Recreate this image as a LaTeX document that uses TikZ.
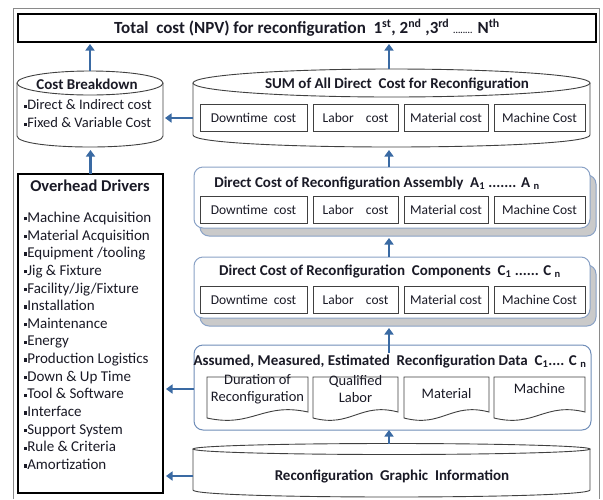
\documentclass[tikz,border=0pt]{standalone}
\usepackage{fontspec}
\setmainfont{Carlito}
\usetikzlibrary{arrows.meta}

\definecolor{arrowblue}{HTML}{3A6AA3}
\definecolor{framegray}{HTML}{8A8A8A}
\definecolor{panelblue}{HTML}{8AA2C6}
\definecolor{panelline}{HTML}{6F8DB8}
\definecolor{shadowgray}{HTML}{CACACA}
\definecolor{inktext}{HTML}{1A1A26}

\newcommand\ttlfnt{\fontsize{17}{20}\selectfont\bfseries}
\newcommand\hdfnt{\fontsize{15}{18}\selectfont\bfseries}
\newcommand\clfnt{\fontsize{13.5}{16}\selectfont}
\newcommand\shfnt{\fontsize{14.5}{17}\selectfont}
\newcommand\itfnt{\fontsize{15}{17.65}\selectfont}
\newcommand\dtfnt{\fontsize{9}{9}\selectfont}
\newcommand\sqbul{\raisebox{0.28ex}{\rule{3.3pt}{3.3pt}}}

% drum: left, right, top centre y, top radius, side bottom y, bottom radius
\newcommand\drum[6]{%
  \path[fill=white] (#1,#3) -- (#1,#5)
    .. controls (#1,{#5+1.3333*#6}) and (#2,{#5+1.3333*#6}) .. (#2,#5) -- (#2,#3) -- cycle;
  \draw[drumline] (#1,#3) -- (#1,#5)
    .. controls (#1,{#5+1.3333*#6}) and (#2,{#5+1.3333*#6}) .. (#2,#5) -- (#2,#3);
  \draw[drumline, fill=white] ({(#1+#2)/2},#3) ellipse [x radius={(#2-#1)/2}, y radius=#4];
}
% document sheet with a wavy lower edge: left, right, top, bottom-left
\newcommand\sheet[4]{%
  \draw[drumline, fill=white] (#1,#4) -- (#1,#3) -- (#2,#3) -- (#2,{#4-6})
    .. controls ({#2-0.45*(#2-#1)},{#4-16}) and ({#1+0.45*(#2-#1)},{#4+10}) .. (#1,#4) -- cycle;
}

\begin{document}
\begin{tikzpicture}[x=1pt,y=-1pt,
  every node/.style={inner sep=0pt, outer sep=0pt, text=inktext},
  bar/.style={draw=black, line width=2pt, fill=white},
  cell/.style={draw=black!75, line width=0.9pt, fill=white, minimum height=27pt, font=\clfnt},
  panel/.style={draw=panelblue, line width=1pt, fill=white, rounded corners=9pt},
  panelshadow/.style={draw=panelblue, line width=1pt, fill=shadowgray, rounded corners=9pt},
  drumline/.style={draw=black!75, line width=0.9pt},
  flow/.style={draw=arrowblue, line width=2.8pt, -{Triangle[width=9pt,length=6.5pt]}},
]
\useasboundingbox (0,0) rectangle (603,499);

% outer frame, open at the foot
\draw[framegray, line width=1pt] (13,499) -- (13,8) -- (599,8) -- (599,499);

% headline bar
\node[bar, minimum width=578pt, minimum height=28pt] (total) at (307,28)
  {\ttlfnt Total\ \ cost (NPV) for reconfiguration\ \ 1\textsuperscript{st}, 2\textsuperscript{nd} ,3\textsuperscript{rd} {\dtfnt ........} N\textsuperscript{th}};

\coordinate (spine) at (389,0);

% cost breakdown drum
\drum{17}{163}{83}{12}{136}{11}
\node[minimum width=146pt, minimum height=76pt] (cb) at (90,109) {};
\node[font=\hdfnt] (cbhead) at (87,84) {Cost Breakdown};
\node[font=\fontsize{14.5}{18}\selectfont, align=left, anchor=west] (cbitems) at (24,114)
  {\sqbul Direct \& Indirect cost\\\sqbul Fixed \& Variable Cost};

% sum of direct costs drum
\drum{193}{590}{83}{14}{135}{12}
\node[minimum width=397pt, minimum height=78pt] (sum) at (391.5,108) {};
\node[font=\hdfnt] (sumhead) at (397,84) {SUM of All Direct\ \ Cost for Reconfiguration};
\node[cell, minimum width=107pt] (s1) at (253.5,118) {Downtime\ \ cost};
\node[cell, minimum width=85pt] (s2) at (355.5,118) {Labor\ \ \ \ cost};
\node[cell, minimum width=84pt] (s3) at (446,118) {Material cost};
\node[cell, minimum width=91pt] (s4) at (539.5,118) {Machine Cost};

% assembly panel
\node[panelshadow, minimum width=396pt, minimum height=61pt] (asmsh) at (398,205.5) {};
\node[panel, minimum width=396pt, minimum height=61pt] (asm) at (392,197.5) {};
\node[font=\hdfnt] (asmhead) at (377,183)
  {Direct Cost of Reconfiguration Assembly\ \ A\textsubscript{1} ....... A \textsubscript{n}};
\node[cell, minimum width=107pt] (a1) at (253.5,210) {Downtime\ \ cost};
\node[cell, minimum width=85pt] (a2) at (355.5,210) {Labor\ \ \ \ cost};
\node[cell, minimum width=84pt] (a3) at (446,210) {Material cost};
\node[cell, minimum width=91pt] (a4) at (539.5,210) {Machine Cost};

% components panel
\node[panelshadow, minimum width=396pt, minimum height=61pt] (cmpsh) at (398,295.5) {};
\node[panel, minimum width=396pt, minimum height=61pt] (cmp) at (392,287.5) {};
\node[font=\hdfnt] (cmphead) at (390,271)
  {Direct Cost of Reconfiguration\ \ Components\ \ C\textsubscript{1} ...... C \textsubscript{n}};
\node[cell, minimum width=107pt] (c1) at (253.5,299.5) {Downtime\ \ cost};
\node[cell, minimum width=85pt] (c2) at (355.5,299.5) {Labor\ \ \ \ cost};
\node[cell, minimum width=84pt] (c3) at (446,299.5) {Material cost};
\node[cell, minimum width=91pt] (c4) at (539.5,299.5) {Machine Cost};

% input data panel
\node[panel, draw=panelline, minimum width=397pt, minimum height=85pt] (dat) at (392.5,387.5) {};
\node[font=\hdfnt] (dathead) at (390,361)
  {Assumed, Measured,\ Estimated\ \ Reconfiguration Data\ \ C\textsubscript{1}.... C \textsubscript{n}};
\sheet{207}{308}{377}{418}
\sheet{313}{398}{377}{418}
\sheet{404}{489}{377}{418}
\sheet{494}{585}{377}{418}
\node[font=\shfnt, align=center] (d1) at (257.5,389) {Duration of\\Reconfiguration};
\node[font=\shfnt, align=center] (d2) at (355.5,389) {Qualified\\Labor};
\node[font=\shfnt] (d3) at (446.5,394) {Material};
\node[font=\shfnt] (d4) at (539.5,389) {Machine};

% graphic information drum
\drum{193}{590}{449}{5.5}{490}{7}
\node[minimum width=397pt, minimum height=53pt] (gr) at (391.5,470.5) {};
\node[font=\hdfnt] (grtext) at (392,476) {Reconfiguration\ \ Graphic\ \ Information};

% overhead drivers list
\node[bar, minimum width=145pt, minimum height=319pt] (ovh) at (90.5,333.5) {};
\node[font=\fontsize{16.5}{19}\selectfont\bfseries] (ovhhead) at (90,186) {Overhead Drivers};
\node[font=\itfnt, align=left, anchor=north west] (ovhitems) at (24,212)
  {\sqbul Machine Acquisition\\
   \sqbul Material Acquisition\\
   \sqbul Equipment /tooling\\
   \sqbul Jig \& Fixture\\
   \sqbul Facility/Jig/Fixture\\
   \sqbul Installation\\
   \sqbul Maintenance\\
   \sqbul Energy\\
   \sqbul Production Logistics\\
   \sqbul Down \& Up Time\\
   \sqbul Tool \& Software\\
   \sqbul Interface\\
   \sqbul Support System\\
   \sqbul Rule \& Criteria\\
   \sqbul Amortization};

% flows
\path (dat.north -| spine) ++(0,8) coordinate (dattail);
\draw[flow, shorten >=2pt] (cb.north) -- (total.south -| cb.north);
\draw[flow, shorten >=2pt] (sum.north -| spine) -- (total.south -| spine);
\draw[flow, shorten >=2pt] (sum.west |- s1) -- (cb.east |- s1);
\draw[flow, shorten >=3pt] (ovh.north) -- (cb.south -| ovh.north);
\draw[flow, shorten >=3pt] (asm.north -| spine) -- (sum.south -| spine);
\draw[flow, shorten >=2pt] (cmp.north -| spine) -- (asmsh.south -| spine);
\draw[flow, shorten >=2pt] (dattail) -- (cmpsh.south -| spine);
\draw[flow] (gr.north -| spine) -- (dat.south -| spine);
\draw[flow, shorten >=3pt] (dat.west |- d1) -- (ovh.east |- d1);
\draw[flow, shorten >=3pt] (gr.west |- grtext) -- (ovh.east |- grtext);
\end{tikzpicture}
\end{document}
